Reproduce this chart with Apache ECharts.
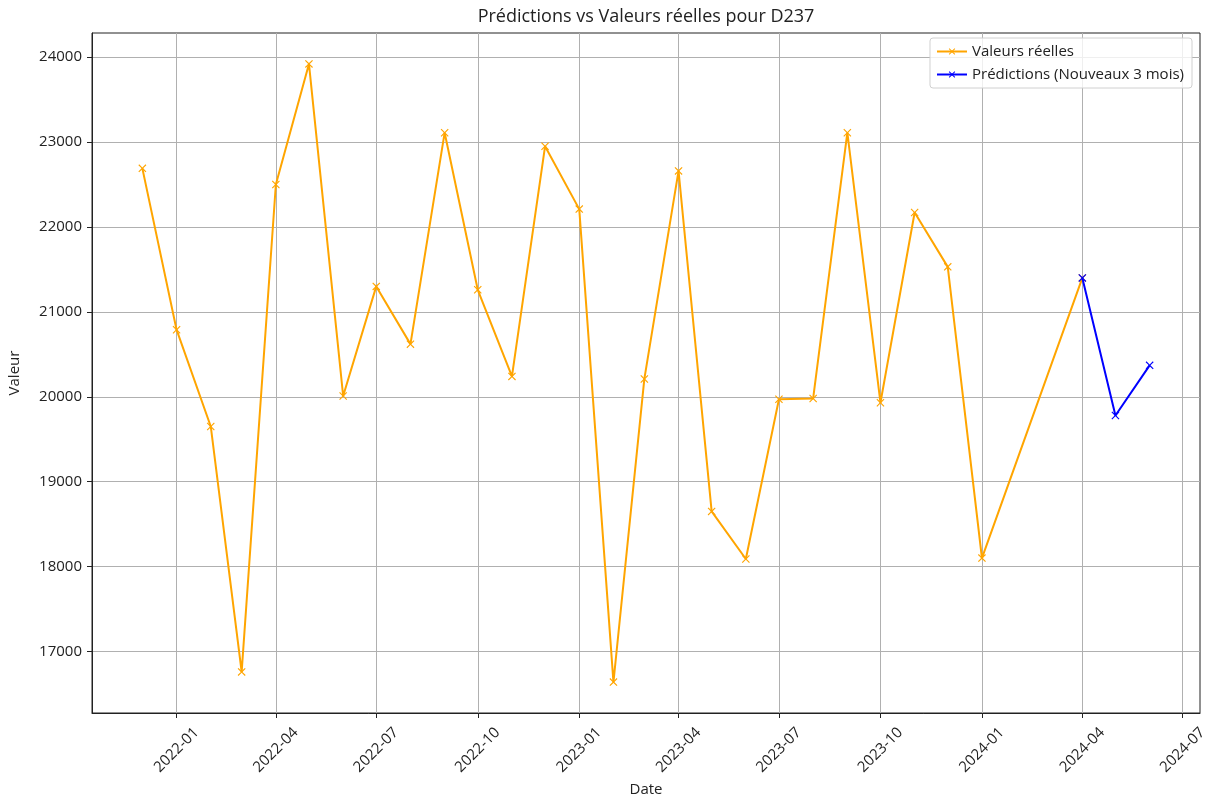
<!DOCTYPE html>
<html>
<head>
<meta charset="utf-8">
<script src="https://cdn.jsdelivr.net/npm/echarts@6/dist/echarts.min.js"></script>
<style>
  html, body { margin: 0; padding: 0; background: #fff; }
  #chart { width: 1213px; height: 800px; }
</style>
</head>
<body>
<div id="chart"></div>
<script>
// Monthly observed values
const actualMonths = ['2021-12', '2022-01', '2022-02', '2022-03', '2022-04', '2022-05', '2022-06',
  '2022-07', '2022-08', '2022-09', '2022-10', '2022-11', '2022-12', '2023-01', '2023-02', '2023-03',
  '2023-04', '2023-05', '2023-06', '2023-07', '2023-08', '2023-09', '2023-10', '2023-11', '2023-12',
  '2024-01', '2024-04'];
const actualValues = [22690, 20790, 19650, 16760, 22500, 23920, 20010,
  21300, 20620, 23110, 21260, 20240, 22950, 22210, 16640, 20210,
  22660, 18650, 18090, 19970, 19980, 23110, 19930, 22170, 21530,
  18100, 21400];

// Forecast for the next three months
const predMonths = ['2024-04', '2024-05', '2024-06'];
const predValues = [21400, 19780, 20370];

// Axis ticks
const xTickLabels = ['2022-01', '2022-04', '2022-07', '2022-10', '2023-01', '2023-04',
  '2023-07', '2023-10', '2024-01', '2024-04', '2024-07'];
const yTickValues = [17000, 18000, 19000, 20000, 21000, 22000, 23000, 24000];

const FONT = 'Open Sans';

function monthToTime(m) {
  const [y, mo] = m.split('-').map(Number);
  return Date.UTC(y, mo - 1, 1);
}
function timeToMonth(t) {
  const d = new Date(t);
  return d.getUTCFullYear() + '-' + String(d.getUTCMonth() + 1).padStart(2, '0');
}

const actualData = actualMonths.map((m, i) => [monthToTime(m), actualValues[i]]);
const predData = predMonths.map((m, i) => [monthToTime(m), predValues[i]]);
const xTicks = xTickLabels.map(monthToTime);

// 5% padding around the data range on both axes
const allX = actualData.concat(predData).map(d => d[0]);
const allY = actualData.concat(predData).map(d => d[1]);
const xSpan = Math.max(...allX) - Math.min(...allX);
const ySpan = Math.max(...allY) - Math.min(...allY);
const xMin = Math.min(...allX) - 0.05 * xSpan;
const xMax = Math.max(...allX) + 0.05 * xSpan;
const yMin = Math.min(...allY) - 0.05 * ySpan;
const yMax = Math.max(...allY) + 0.05 * ySpan;

// Thin "x" marker
const crossSymbol = 'path://M0,1L1,0L5,4L9,0L10,1L6,5L10,9L9,10L5,6L1,10L0,9L4,5Z';

const GRID = { left: 92, right: 13, top: 33, bottom: 87 };

const chart = echarts.init(document.getElementById('chart'));
chart.setOption({
  animation: false,
  backgroundColor: '#ffffff',
  textStyle: { fontFamily: FONT },
  grid: Object.assign({
    show: true, borderColor: '#222', borderWidth: 1, backgroundColor: 'transparent',
    containLabel: false, outerBoundsMode: 'none'
  }, GRID),
  graphic: [{
    type: 'text',
    x: GRID.left + (1213 - GRID.left - GRID.right) / 2,
    y: 17,
    style: {
      text: 'Prédictions vs Valeurs réelles pour D237',
      fontFamily: FONT, fontSize: 18, fill: '#222',
      textAlign: 'center', textVerticalAlign: 'middle'
    }
  }],
  legend: {
    right: 21, top: 38,
    orient: 'vertical',
    itemWidth: 30, itemHeight: 8, itemGap: 8,
    padding: [6, 8, 6, 6],
    backgroundColor: 'rgba(255,255,255,0.8)',
    borderColor: '#d0d0d0', borderWidth: 1, borderRadius: 3,
    textStyle: { fontFamily: FONT, fontSize: 15, color: '#222' },
    data: ['Valeurs réelles', 'Prédictions (Nouveaux 3 mois)']
  },
  xAxis: {
    type: 'value',
    min: xMin, max: xMax,
    name: 'Date', nameLocation: 'middle', nameGap: 68,
    nameTextStyle: { fontFamily: FONT, fontSize: 15, color: '#222' },
    axisLine: { show: true, onZero: false, lineStyle: { color: '#222', width: 1 } },
    axisTick: { show: true, customValues: xTicks, length: 5, lineStyle: { color: '#222' } },
    axisLabel: {
      customValues: xTicks,
      formatter: v => timeToMonth(v),
      rotate: 45, align: 'center', verticalAlign: 'middle', margin: 37,
      fontFamily: FONT, fontSize: 15, color: '#222'
    },
    splitLine: { show: true, lineStyle: { color: '#b0b0b0', width: 1 } }
  },
  yAxis: {
    type: 'value',
    min: yMin, max: yMax,
    name: 'Valeur', nameLocation: 'middle', nameGap: 70, nameRotate: 90,
    nameTextStyle: { fontFamily: FONT, fontSize: 15, color: '#222' },
    axisLine: { show: true, onZero: false, lineStyle: { color: '#222', width: 1 } },
    axisTick: { show: true, customValues: yTickValues, length: 5, lineStyle: { color: '#222' } },
    axisLabel: {
      customValues: yTickValues, margin: 10,
      formatter: v => String(Math.round(v)),
      fontFamily: FONT, fontSize: 15, color: '#222'
    },
    splitLine: { show: true, lineStyle: { color: '#b0b0b0', width: 1 } }
  },
  series: [
    {
      name: 'Valeurs réelles',
      type: 'line',
      data: actualData,
      symbol: crossSymbol, symbolSize: 8,
      showAllSymbol: true,
      lineStyle: { color: '#FFA500', width: 2 },
      itemStyle: { color: '#FFA500' },
      z: 2
    },
    {
      name: 'Prédictions (Nouveaux 3 mois)',
      type: 'line',
      data: predData,
      symbol: crossSymbol, symbolSize: 8,
      showAllSymbol: true,
      lineStyle: { color: '#0000FF', width: 2 },
      itemStyle: { color: '#0000FF' },
      z: 3
    }
  ]
});
</script>
</body>
</html>
